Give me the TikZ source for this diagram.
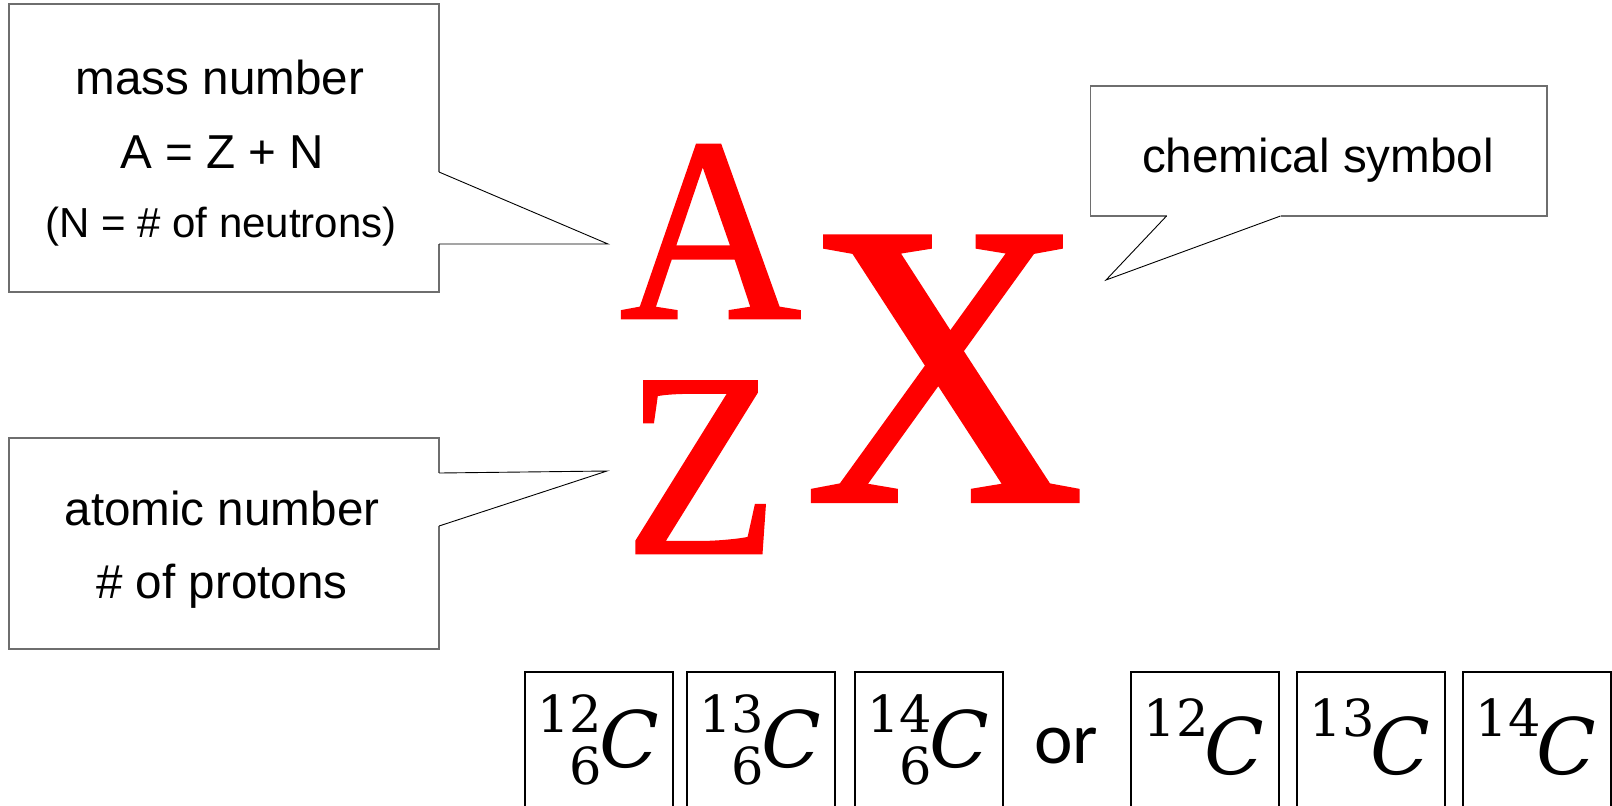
\documentclass[tikz,border=0pt]{standalone}
\usepackage{fontspec}
\setmainfont{Liberation Sans}
\newfontfamily\bigserif[FakeStretch=0.96,FakeBold=1.0]{Liberation Serif}
\newfontfamily\isofont{DejaVu Serif}
\newfontfamily\orfont{Carlito}
\definecolor{boxgray}{RGB}{110,110,110}
\definecolor{symred}{RGB}{255,0,0}
\begin{document}
\begin{tikzpicture}[x=0.5pt,y=-0.5pt,
  boxline/.style={draw=boxgray, line width=0.7pt},
  tailline/.style={draw=black, line width=0.45pt},
  lbl/.style={inner sep=0pt, anchor=base, font=\fontsize{23.8}{28}\selectfont},
  smalllbl/.style={inner sep=0pt, anchor=base, font=\fontsize{21}{25}\selectfont},
  bigletter/.style={inner sep=0pt, anchor=base, text=symred, text height=0.66em, text depth=0pt, font=\bigserif\fontsize{131}{131}\selectfont},
  hugeletter/.style={inner sep=0pt, anchor=base, text=symred, text height=0.66em, text depth=0pt, font=\bigserif\fontsize{202}{202}\selectfont},
  isobox/.style={draw=black, line width=1pt},
  isoscript/.style={inner sep=0pt, anchor=base, font=\isofont\fontsize{25.5}{26}\selectfont},
  isomain/.style={inner sep=0pt, anchor=base, font=\isofont\itshape\fontsize{39}{40}\selectfont},
  ortext/.style={inner sep=0pt, anchor=base, font=\orfont\fontsize{36.5}{38}\selectfont}
]
\useasboundingbox (0,0) rectangle (1612,805);

% ---- mass number callout
\coordinate (massTip) at (608,244);
\draw[boxline] (439,172) -- (439,4) -- (9,4) -- (9,292) -- (439,292) -- (439,244);
\draw[tailline] (439,172) -- (massTip) -- (439,244);
\node[lbl] (massA) at (220,94) {mass number};
\node[lbl] (massB) at (222,168) {A = Z + N};
\node[smalllbl] (massC) at (221,237) {(N = \# of neutrons)};

% ---- atomic number callout
\coordinate (atomTip) at (607,471);
\draw[boxline] (439,473) -- (439,438) -- (9,438) -- (9,649) -- (439,649) -- (439,526);
\draw[tailline] (439,473) -- (atomTip) -- (439,526);
\node[lbl] (atomA) at (222,525) {atomic number};
\node[lbl] (atomB) at (222,598) {\# of protons};

% ---- chemical symbol callout
\coordinate (chemTip) at (1106,280);
\draw[boxline] (1166.5,216) -- (1090.5,216) -- (1090.5,86) -- (1547,86) -- (1547,216) -- (1280.5,216);
\draw[tailline] (1166.5,216) -- (chemTip) -- (1280.5,216);
\node[lbl] (chem) at (1318,172) {chemical symbol};

% ---- big symbol
\node[bigletter] (bigA) at (710.5,318) {A};
\node[bigletter] (bigZ) at (701.5,553) {Z};
\node[hugeletter] (bigX) at (944.5,501) {X};

% ---- isotope boxes with atomic number
\foreach \L/\s [count=\i] in {525/12, 687/13, 855/14} {
  \draw[isobox] (\L,806) -- (\L,672) -- (\L+148,672) -- (\L+148,806);
  \node[isoscript] (supA\i) at (\L+45,732) {\s};
  \node[isoscript] (subA\i) at (\L+61,784) {6};
  \node[isomain] (symA\i) at (\L+104,767) {C};
}
\node[ortext] (or) at (1066,763) {or};
% ---- isotope boxes without atomic number
\foreach \L/\s [count=\i] in {1131/12, 1297/13, 1463/14} {
  \draw[isobox] (\L,806) -- (\L,672) -- (\L+148,672) -- (\L+148,806);
  \node[isoscript] (supB\i) at (\L+45,736) {\s};
  \node[isomain] (symB\i) at (\L+103,774) {C};
}
\end{tikzpicture}
\end{document}
